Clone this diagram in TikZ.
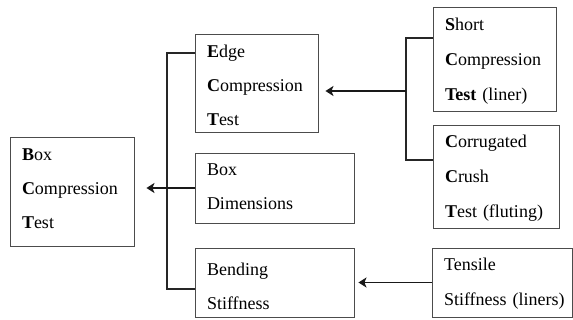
\documentclass[tikz,border=0pt]{standalone}
\usepackage{fontspec}
\setmainfont{Liberation Serif}
\usetikzlibrary{arrows.meta}

\tikzset{
  infobox/.style={draw=black!70, line width=0.9pt, rectangle, inner xsep=12pt, inner ysep=0pt,
    align=left, anchor=center},
  lines34/.style={font=\fontsize{18}{34}\selectfont},
  lines35/.style={font=\fontsize{18}{35}\selectfont},
  bracket/.style={draw=black!85, line width=1.1pt},
  feed/.style={draw=black!90, line width=1.8pt, -{Stealth[length=8pt,width=10pt,inset=2pt]}}
}

\begin{document}
\begin{tikzpicture}[x=1pt, y=-1pt]
  \useasboundingbox (0,0) rectangle (573,320);

  % target property
  \node[infobox, lines34, minimum width=124pt, minimum height=109pt, text width=100pt,
        text height=7pt, text depth=68pt]
    (bct) at (72,191.5) {\textbf{B}ox\\\textbf{C}ompression\\\textbf{T}est};

  % contributing properties of the box
  \node[infobox, lines34, minimum width=123pt, minimum height=98pt, text width=99pt,
        text height=17.4pt, text depth=68pt]
    (ect) at (256.5,83) {\textbf{E}dge\\\textbf{C}ompression\\\textbf{T}est};
  \node[infobox, lines34, minimum width=159pt, minimum height=70pt, text width=135pt,
        text height=9.4pt, text depth=34pt]
    (bd) at (274.5,188) {Box\\Dimensions};
  \node[infobox, lines34, minimum width=159pt, minimum height=69pt, text width=135pt,
        text height=20.4pt, text depth=34pt]
    (bs) at (274.5,282.5) {Bending\\Stiffness};

  % board component tests
  \node[infobox, lines35, minimum width=123pt, minimum height=104pt, text width=99pt,
        text height=13.4pt, text depth=70pt]
    (sct) at (494.5,59) {\textbf{S}hort\\\textbf{C}ompression\\\textbf{Test} (liner)};
  \node[infobox, lines35, minimum width=126pt, minimum height=103pt, text width=102pt,
        text height=13pt, text depth=70pt]
    (cct) at (496,176.5) {\textbf{C}orrugated\\\textbf{C}rush\\\textbf{T}est (fluting)};
  \node[infobox, lines35, minimum width=140pt, minimum height=69pt, text width=116pt,
        text height=11.4pt, text depth=35pt]
    (ts) at (502,282.5) {Tensile\\\mbox{Stiffness (liners)}};

  % left bracket joining ECT and bending stiffness
  \coordinate (lb1) at (167,53);
  \coordinate (lb2) at (167,289);
  \draw[bracket] (ect.west |- lb1) -- (lb1) -- (lb2) -- (bs.west |- lb2);
  \coordinate (bctin) at ([xshift=12pt]bct.east);
  \draw[feed] (bd.west) -- (bctin |- bd.west);

  % right bracket joining SCT and CCT
  \coordinate (rb1) at (406,38);
  \coordinate (rb2) at (406,160);
  \coordinate (rbm) at (406,91);
  \draw[bracket] (sct.west |- rb1) -- (rb1) -- (rb2) -- (cct.west |- rb2);
  \coordinate (ectin) at ([xshift=7pt]ect.east);
  \draw[feed] (rbm) -- (ectin |- rbm);

  % tensile stiffness into bending stiffness
  \coordinate (bsin) at ([xshift=4pt]bs.east);
  \draw[feed] (ts.west) -- (bsin |- ts.west);
\end{tikzpicture}
\end{document}
